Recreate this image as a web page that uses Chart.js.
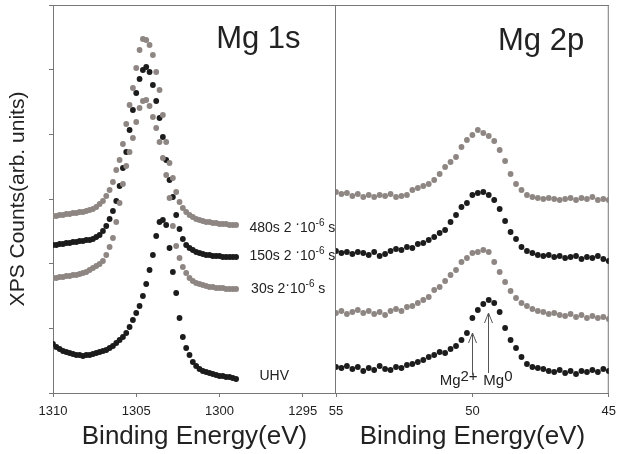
<!DOCTYPE html>
<html>
<head>
<meta charset="utf-8">
<script src="https://cdn.jsdelivr.net/npm/chart.js@4"></script>
<style>
  html, body { margin: 0; padding: 0; background: #fff; }
  #wrap { position: relative; width: 623px; height: 454px; }
  .layer { position: absolute; left: 0; top: 0; width: 623px; height: 454px; }
</style>
</head>
<body>
<div id="wrap">
  <div class="layer"><canvas id="mg1sChart"></canvas></div>
  <div class="layer"><canvas id="mg2pChart"></canvas></div>
</div>
<script>
// Mg 1s region, binding energy (eV)
const energyMg1s = [1310.0, 1309.8, 1309.6, 1309.4, 1309.2, 1309.0, 1308.8, 1308.6, 1308.4, 1308.2,
  1308.0, 1307.8, 1307.6, 1307.4, 1307.2, 1307.0, 1306.8, 1306.6, 1306.4, 1306.2,
  1306.0, 1305.8, 1305.6, 1305.4, 1305.2, 1305.0, 1304.8, 1304.6, 1304.4, 1304.2,
  1304.0, 1303.8, 1303.6, 1303.4, 1303.2, 1303.0, 1302.8, 1302.6, 1302.4, 1302.2,
  1302.0, 1301.8, 1301.6, 1301.4, 1301.2, 1301.0, 1300.8, 1300.6, 1300.4, 1300.2,
  1300.0, 1299.8, 1299.6, 1299.4, 1299.2, 1299.0];

// counts (arb. units, spectra offset as in the figure)
const mg1s480s = [177, 177, 178, 178, 179, 179, 180, 180, 181, 181,
  182, 183, 184, 186, 189, 192, 197, 203, 211, 223,
  233, 249, 269, 288, 305, 325, 343, 354, 353, 348,
  338, 321, 303, 278, 251, 230, 215, 201, 191, 185,
  181, 178, 176, 174, 173, 172, 171, 171, 170, 170,
  169, 169, 169, 168, 168, 168];
const mg1s150s = [148, 148, 149, 149, 150, 150, 151, 151, 152, 152,
  153, 153, 154, 156, 158, 162, 167, 174, 182, 192,
  207, 225, 241, 263, 283, 300, 314, 323, 326, 321,
  308, 292, 275, 256, 233, 213, 196, 178, 164, 154,
  148, 145, 143, 141, 140, 139, 138, 138, 137, 137,
  137, 136, 136, 136, 136, 136];
const mg1s30s = [115, 115, 116, 116, 117, 117, 118, 118, 119, 120,
  121, 123, 125, 127, 129, 132, 138, 146, 155, 171,
  190, 209, 227, 241, 255, 271, 285, 292, 293, 287,
  276, 265, 251, 235, 218, 195, 167, 147, 135, 126,
  120, 115, 112, 110, 109, 108, 107, 106, 106, 105,
  105, 105, 104, 104, 104, 104];
const mg1sUHV = [49, 46, 44, 42, 41, 40, 39, 38, 38, 37,
  38, 38, 39, 40, 41, 42, 43, 45, 47, 50,
  53, 56, 60, 66, 73, 80, 87, 97, 109, 123,
  138, 157, 171, 173, 168, 145, 121, 100, 75, 56,
  45, 38, 31, 27, 24, 22, 21, 20, 19, 18,
  17, 17, 16, 16, 15, 14];

// Mg 2p region, binding energy (eV)
const energyMg2p = [55.0, 54.8, 54.6, 54.4, 54.2, 54.0, 53.8, 53.6, 53.4, 53.2,
  53.0, 52.8, 52.6, 52.4, 52.2, 52.0, 51.8, 51.6, 51.4, 51.2,
  51.0, 50.8, 50.6, 50.4, 50.2, 50.0, 49.8, 49.6, 49.4, 49.2,
  49.0, 48.8, 48.6, 48.4, 48.2, 48.0, 47.8, 47.6, 47.4, 47.2,
  47.0, 46.8, 46.6, 46.4, 46.2, 46.0, 45.8, 45.6, 45.4, 45.2,
  45.0];
const mg2p480s = [201, 199, 200, 197, 199, 196, 198, 196, 198, 197,
  199, 196, 197, 198, 203, 205, 207, 209, 213, 219,
  226, 231, 236, 246, 253, 258, 263, 260, 257, 252,
  243, 232, 219, 209, 203, 198, 196, 195, 194, 195,
  194, 193, 194, 195, 193, 195, 194, 196, 193, 194,
  193];
const mg2p150s = [142, 140, 141, 139, 141, 140, 138, 141, 137, 139,
  142, 144, 143, 146, 145, 149, 150, 153, 156, 160,
  163, 171, 178, 186, 190, 198, 200, 201, 198, 193,
  184, 172, 161, 154, 146, 142, 140, 138, 137, 138,
  136, 137, 135, 136, 137, 134, 136, 135, 137, 134,
  132];
const mg2p30s = [80, 82, 79, 81, 83, 80, 82, 79, 81, 78,
  82, 84, 82, 86, 87, 90, 93, 96, 103, 106,
  112, 118, 123, 131, 135, 140, 141, 143, 141, 131,
  121, 111, 102, 95, 90, 87, 84, 82, 81, 79,
  80, 78, 77, 79, 76, 78, 75, 77, 75, 76,
  74];
const mg2pUHV = [26, 25, 27, 24, 26, 22, 25, 23, 27, 24,
  23, 26, 25, 28, 29, 31, 33, 36, 38, 41,
  40, 44, 47, 53, 60, 75, 83, 89, 93, 90,
  81, 65, 53, 45, 36, 29, 26, 25, 24, 22,
  21, 23, 20, 22, 19, 22, 21, 23, 21, 24,
  22];

const mg1sTicks = [1310, 1305, 1300, 1295];
const mg2pTicks = [55, 50, 45];
const countTicks = [0, 64.67, 129.33, 194, 258.67, 323.33, 388];

const FONT = "'Liberation Sans', Arial, sans-serif";
const BLACK = '#1c1c1c';
const GREY = '#8e8682';
const AXIS = '#777';

function toPoints(xs, ys) {
  return xs.map((x, i) => ({ x: x, y: ys[i] }));
}

function dots(ys, xs, color) {
  return {
    data: toPoints(xs, ys),
    pointRadius: 2.9,
    pointHoverRadius: 2.9,
    pointBorderWidth: 0,
    pointBackgroundColor: color,
    backgroundColor: color,
    showLine: false
  };
}

// draw a string made of pieces (superscripts etc.)
function drawParts(ctx, x, y, parts, color) {
  ctx.fillStyle = color;
  ctx.textAlign = 'left';
  ctx.textBaseline = 'alphabetic';
  parts.forEach(p => {
    ctx.font = p.size + 'px ' + FONT;
    ctx.fillText(p.t, x, y + (p.dy || 0));
    x += ctx.measureText(p.t).width;
  });
}

function expo(pre) {
  return [
    { t: pre, size: 14 },
    { t: '·', size: 14, dy: -4 },
    { t: '10', size: 14 },
    { t: '-6', size: 10, dy: -6 },
    { t: ' s', size: 14 }
  ];
}

const mg1sNotes = [
  { x: 1300.2, y: 345, parts: [{ t: 'Mg 1s', size: 31 }] },
  { x: 1298.2, y: 161, parts: expo('480s 2 ') },
  { x: 1298.2, y: 133, parts: expo('150s 2 ') },
  { x: 1298.1, y: 100, parts: expo('30s 2') },
  { x: 1297.6, y: 13, parts: [{ t: 'UHV', size: 14 }] }
];
const mg2pNotes = [
  { x: 49.06, y: 343, parts: [{ t: 'Mg 2p', size: 31 }] },
  { x: 51.2, y: 8, parts: [{ t: 'Mg', size: 15 }, { t: '2+', size: 15, dy: -4 }] },
  { x: 49.6, y: 8, parts: [{ t: 'Mg', size: 15 }, { t: '0', size: 15, dy: -4 }] }
];
const mg2pArrows = [
  { x: 50.0, from: 18, to: 60 },
  { x: 49.41, from: 20, to: 80 }
];

const framePlugin = {
  id: 'frame',
  beforeDatasetsDraw(chart) {
    const a = chart.chartArea;
    const ctx = chart.ctx;
    ctx.save();
    ctx.strokeStyle = AXIS;
    ctx.lineWidth = 1;
    ctx.beginPath();
    ctx.moveTo(a.left, a.top + 0.5);
    ctx.lineTo(a.right, a.top + 0.5);
    ctx.moveTo(a.right - 0.5, a.top);
    ctx.lineTo(a.right - 0.5, a.bottom);
    ctx.stroke();
    ctx.restore();
  }
};

function notesPlugin(notes, arrows) {
  return {
    id: 'notes',
    afterDatasetsDraw(chart) {
      const ctx = chart.ctx;
      const xs = chart.scales.x, ys = chart.scales.y;
      ctx.save();
      notes.forEach(n => {
        drawParts(ctx, xs.getPixelForValue(n.x), ys.getPixelForValue(n.y), n.parts, '#222');
      });
      (arrows || []).forEach(ar => {
        const px = Math.round(xs.getPixelForValue(ar.x)) + 0.5;
        const y0 = ys.getPixelForValue(ar.from);
        const y1 = ys.getPixelForValue(ar.to);
        ctx.strokeStyle = '#555';
        ctx.lineWidth = 1;
        ctx.beginPath();
        ctx.moveTo(px, y0);
        ctx.lineTo(px, y1);
        ctx.moveTo(px - 4, y1 + 10);
        ctx.lineTo(px, y1);
        ctx.lineTo(px + 4, y1 + 10);
        ctx.stroke();
      });
      ctx.restore();
    }
  };
}

function xScale(min, max, ticks) {
  return {
    type: 'linear',
    min: min,
    max: max,
    reverse: true,
    afterBuildTicks: axis => { axis.ticks = ticks.map(v => ({ value: v })); },
    afterFit: scale => { scale.height = 61; },
    ticks: {
      color: '#222',
      font: { family: FONT, size: 13 },
      padding: 7,
      maxRotation: 0,
      callback: v => String(v)
    },
    grid: { drawOnChartArea: false, drawTicks: true, tickLength: 4, color: AXIS },
    border: { color: AXIS },
    title: {
      display: true,
      text: 'Binding Energy(eV)',
      color: '#222',
      font: { family: FONT, size: 26 },
      padding: { top: 0, bottom: 2 }
    }
  };
}

const common = {
  responsive: true,
  maintainAspectRatio: false,
  animation: false,
  plugins: { legend: { display: false }, tooltip: { enabled: false } }
};

new Chart(document.getElementById('mg1sChart').getContext('2d'), {
  type: 'scatter',
  data: {
    datasets: [
      dots(mg1s480s, energyMg1s, GREY),
      dots(mg1s30s, energyMg1s, GREY),
      dots(mg1s150s, energyMg1s, BLACK),
      dots(mg1sUHV, energyMg1s, BLACK)
    ]
  },
  options: Object.assign({}, common, {
    layout: { padding: { left: 0, right: 287, top: 5, bottom: 0 } },
    scales: {
      x: xScale(1293, 1310, mg1sTicks),
      y: {
        min: 0,
        max: 388,
        afterBuildTicks: axis => { axis.ticks = countTicks.map(v => ({ value: v })); },
        afterFit: scale => { scale.width = 53; },
        ticks: { display: false },
        grid: { drawOnChartArea: false, drawTicks: true, tickLength: 4, color: AXIS },
        border: { color: AXIS },
        title: {
          display: true,
          text: 'XPS Counts(arb. units)',
          color: '#222',
          font: { family: FONT, size: 21 },
          padding: { top: 6, bottom: 0 }
        }
      }
    }
  }),
  plugins: [framePlugin, notesPlugin(mg1sNotes)]
});

new Chart(document.getElementById('mg2pChart').getContext('2d'), {
  type: 'scatter',
  data: {
    datasets: [
      dots(mg2p480s, energyMg2p, GREY),
      dots(mg2p30s, energyMg2p, GREY),
      dots(mg2p150s, energyMg2p, BLACK),
      dots(mg2pUHV, energyMg2p, BLACK)
    ]
  },
  options: Object.assign({}, common, {
    layout: { padding: { left: 336, right: 6, top: 5, bottom: 0 } },
    scales: {
      x: xScale(45, 55, mg2pTicks),
      y: { display: false, min: 0, max: 388 }
    }
  }),
  plugins: [framePlugin, notesPlugin(mg2pNotes, mg2pArrows)]
});
</script>
</body>
</html>
